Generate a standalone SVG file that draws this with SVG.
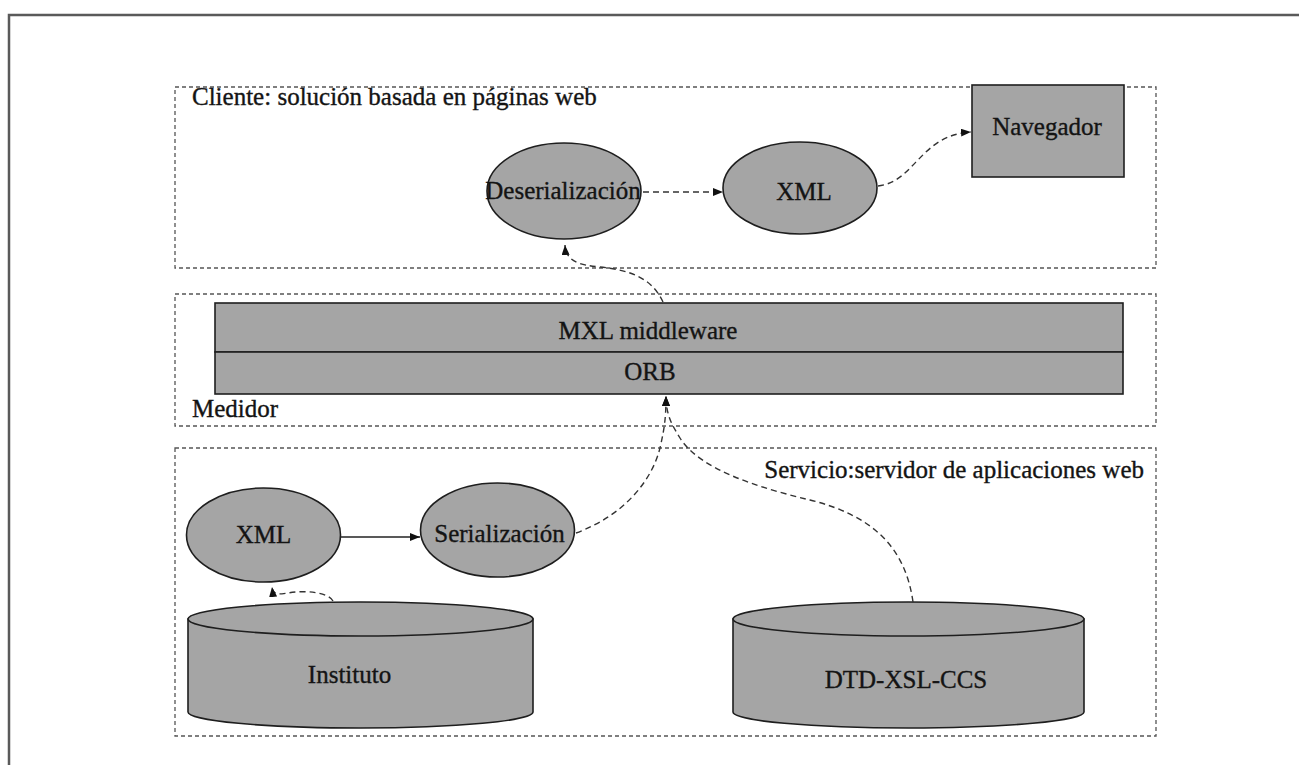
<svg xmlns="http://www.w3.org/2000/svg" width="1299" height="765" viewBox="0 0 1299 765">
  <style>
    .frame { fill: none; stroke: #5a5a5a; stroke-width: 2.5; }
    .zone { fill: none; stroke: #555; stroke-width: 1.3; stroke-dasharray: 4 3; }
    .shape { fill: #a5a5a5; stroke: #1e1e1e; stroke-width: 1.6; }
    .lbl { font-family: "Liberation Serif", "Times New Roman", serif; font-size: 25px; fill: #141414; stroke: #141414; stroke-width: 0.35; }
    .mid { text-anchor: middle; }
    .end { text-anchor: end; }
    .dash { fill: none; stroke: #333; stroke-width: 1.4; stroke-dasharray: 6 4; }
    .solid { fill: none; stroke: #222; stroke-width: 1.4; }
  </style>
  <defs>
    <marker id="arrow" viewBox="0 0 10 8" refX="10" refY="4" markerWidth="10" markerHeight="8" markerUnits="userSpaceOnUse" orient="auto">
      <path d="M0,0 L10,4 L0,8 Z" fill="#111"/>
    </marker>
  </defs>

  <rect width="1299" height="765" fill="#fff"/>

  <!-- page frame -->
  <path class="frame" d="M9,765 L9,15 L1299,15"/>

  <!-- layer boxes -->
  <g id="zona-cliente">
    <rect class="zone" x="175" y="87" width="981" height="181"/>
    <text class="lbl" x="192" y="105">Cliente: solución basada en páginas web</text>
  </g>
  <g id="zona-medidor">
    <rect class="zone" x="175" y="294" width="981" height="132"/>
    <text class="lbl" x="192" y="417">Medidor</text>
  </g>
  <g id="zona-servicio">
    <rect class="zone" x="175" y="448" width="981" height="288"/>
    <text class="lbl end" x="1144" y="478">Servicio:servidor de aplicaciones web</text>
  </g>

  <!-- client nodes -->
  <g id="deserializacion">
    <ellipse class="shape" cx="564" cy="191" rx="77" ry="48"/>
    <text class="lbl mid" x="563" y="199">Deserialización</text>
  </g>
  <g id="xml-cliente">
    <ellipse class="shape" cx="800" cy="188" rx="77" ry="46"/>
    <text class="lbl mid" x="804" y="200">XML</text>
  </g>
  <g id="navegador">
    <rect class="shape" x="972" y="85" width="152" height="92"/>
    <text class="lbl mid" x="1047" y="135">Navegador</text>
  </g>

  <!-- middleware stack -->
  <g id="mxl-middleware">
    <rect class="shape" x="215" y="303" width="908" height="49"/>
    <text class="lbl mid" x="648" y="339">MXL middleware</text>
  </g>
  <g id="orb">
    <rect class="shape" x="215" y="352" width="908" height="42"/>
    <text class="lbl mid" x="650" y="380">ORB</text>
  </g>

  <!-- service nodes -->
  <g id="xml-servicio">
    <ellipse class="shape" cx="263.5" cy="535" rx="77" ry="47"/>
    <text class="lbl mid" x="263.5" y="543">XML</text>
  </g>
  <g id="serializacion">
    <ellipse class="shape" cx="497.5" cy="530" rx="77" ry="47"/>
    <text class="lbl mid" x="499.5" y="542">Serialización</text>
  </g>
  <g id="instituto">
    <path class="shape" d="M188,619 L188,712 A172.5,16 0 0 0 533,712 L533,619 Z"/>
    <ellipse class="shape" cx="360.5" cy="619" rx="172.5" ry="17"/>
    <text class="lbl mid" x="349.5" y="683">Instituto</text>
  </g>
  <g id="dtd-xsl-ccs">
    <path class="shape" d="M733,619 L733,712 A175.5,16 0 0 0 1084,712 L1084,619 Z"/>
    <ellipse class="shape" cx="908.5" cy="619" rx="175.5" ry="17"/>
    <text class="lbl mid" x="906" y="688">DTD-XSL-CCS</text>
  </g>

  <!-- connectors -->
  <g id="conectores">
    <path class="dash" d="M643,192 L723,192" marker-end="url(#arrow)"/>
    <path class="dash" d="M878,186 C915,182 920,135 971,132" marker-end="url(#arrow)"/>
    <path class="dash" d="M663,302 C652,278 630,270 600,267 C580,265 566,262 565,245" marker-end="url(#arrow)"/>
    <path class="solid" d="M340,537 L420,537" marker-end="url(#arrow)"/>
    <path class="dash" d="M333,601 C328,592 305,590 288,593 C280,594 273,596 272,587" marker-end="url(#arrow)"/>
    <path class="dash" d="M576,533 C625,515 652,480 660,448 C664,430 666,420 666,396" marker-end="url(#arrow)"/>
    <path class="dash" d="M913,602 C905,545 870,515 810,500 C760,488 700,470 680,438 C672,425 666,415 666,396" marker-end="url(#arrow)"/>
  </g>
</svg>
